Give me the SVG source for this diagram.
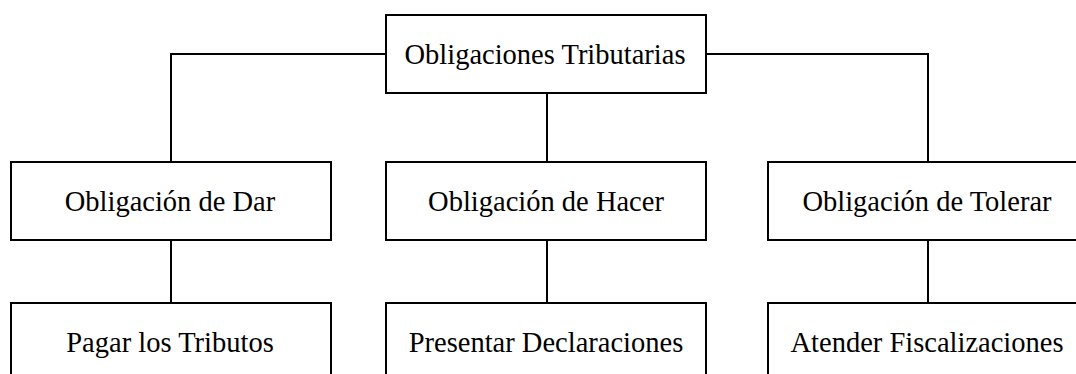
<svg xmlns="http://www.w3.org/2000/svg" width="1076" height="374" viewBox="0 0 1076 374">
<style>
.box{fill:#fff;stroke:#000;stroke-width:2}
.lbl{font-family:"Liberation Serif","Times New Roman",serif;font-size:28.5px;fill:#000;text-anchor:middle}
.conn{fill:none;stroke:#000;stroke-width:2}
</style>
<rect width="1076" height="374" fill="#fff"/>
<g id="connectors">
<path class="conn" d="M386 54 H171 V162"/>
<path class="conn" d="M706 54 H928 V162"/>
<path class="conn" d="M547 93 V162"/>
<path class="conn" d="M171 240 V303"/>
<path class="conn" d="M547 240 V303"/>
<path class="conn" d="M928 240 V303"/>
</g>
<g id="n-root"><rect class="box" x="386" y="15" width="320" height="78"/><text class="lbl" x="545" y="63.5">Obligaciones Tributarias</text></g>
<g id="n-dar"><rect class="box" x="11" y="162" width="320" height="78"/><text class="lbl" x="170" y="210.5">Obligación de Dar</text></g>
<g id="n-hacer"><rect class="box" x="386" y="162" width="320" height="78"/><text class="lbl" x="546" y="210.5">Obligación de Hacer</text></g>
<g id="n-tolerar"><rect class="box" x="768" y="162" width="320" height="78"/><text class="lbl" x="927" y="210.5">Obligación de Tolerar</text></g>
<g id="n-pagar"><rect class="box" x="11" y="303" width="320" height="78"/><text class="lbl" x="170" y="351.5">Pagar los Tributos</text></g>
<g id="n-presentar"><rect class="box" x="386" y="303" width="320" height="78"/><text class="lbl" x="546" y="351.5">Presentar Declaraciones</text></g>
<g id="n-atender"><rect class="box" x="768" y="303" width="320" height="78"/><text class="lbl" x="927" y="351.5">Atender Fiscalizaciones</text></g>
</svg>
